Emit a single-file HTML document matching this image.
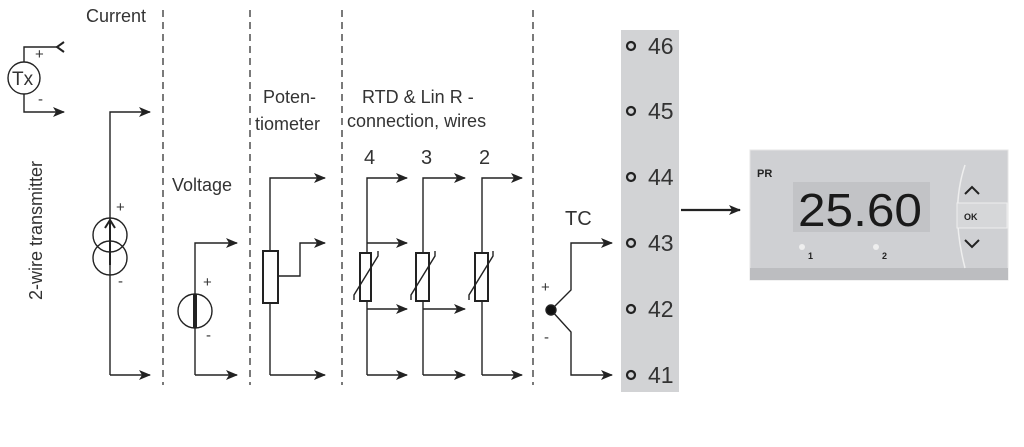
<!DOCTYPE html>
<html><head><meta charset="utf-8"><style>
html,body{margin:0;padding:0;background:#fff;width:1024px;height:447px;overflow:hidden}
svg{display:block}
text{font-family:"Liberation Sans",sans-serif;fill:#333}
</style></head><body>
<svg width="1024" height="447" viewBox="0 0 1024 447" xmlns="http://www.w3.org/2000/svg">
<defs>
<marker id="a" markerWidth="12" markerHeight="10" refX="11" refY="5" orient="auto" markerUnits="userSpaceOnUse">
<path d="M0,0 L12,5 L0,10 L3,5 Z" fill="#222"/></marker>
</defs>
<g stroke="#333" stroke-width="1.3" stroke-dasharray="7,5" fill="none">
<line x1="163" y1="10" x2="163" y2="385"/>
<line x1="250" y1="10" x2="250" y2="385"/>
<line x1="342" y1="10" x2="342" y2="385"/>
<line x1="533" y1="10" x2="533" y2="385"/>
</g>
<rect x="621" y="30" width="58" height="362" fill="#d2d3d5"/>
<g fill="none" stroke="#222" stroke-width="2.2">
<circle cx="631" cy="46" r="4"/><circle cx="631" cy="111" r="4"/><circle cx="631" cy="177" r="4"/>
<circle cx="631" cy="243" r="4"/><circle cx="631" cy="309" r="4"/><circle cx="631" cy="375" r="4"/>
</g>
<g font-size="23">
<text x="648" y="54">46</text><text x="648" y="119">45</text><text x="648" y="185">44</text>
<text x="648" y="251">43</text><text x="648" y="317">42</text><text x="648" y="383">41</text>
</g>
<g font-size="18">
<text x="86" y="22">Current</text>
<text x="172" y="191">Voltage</text>
<text x="263" y="103">Poten-</text>
<text x="255" y="130">tiometer</text>
<text x="362" y="103">RTD &amp; Lin R -</text>
<text x="347" y="127">connection, wires</text>
<text x="364" y="164" font-size="20">4</text>
<text x="421" y="164" font-size="20">3</text>
<text x="479" y="164" font-size="20">2</text>
<text x="565" y="225" font-size="20">TC</text>
<text x="42" y="300" transform="rotate(-90 42 300)">2-wire transmitter</text>
<text x="12" y="85" font-size="19">Tx</text>
</g>
<g font-size="15">
<text x="35" y="59">+</text><text x="38" y="104">-</text>
<text x="116" y="212">+</text><text x="118" y="286">-</text>
<text x="203" y="287">+</text><text x="206" y="340">-</text>
<text x="541" y="292">+</text><text x="544" y="342">-</text>
</g>
<g fill="none" stroke="#222" stroke-width="1.4">
<circle cx="24" cy="78" r="16"/>
<path d="M24,62 V47 H58"/>
<path d="M64,42 L57,47 L64,52" stroke-width="2"/>
<path d="M24,94 V112 H64" marker-end="url(#a)"/>
<path d="M110,375 V112 H150" marker-end="url(#a)"/>
<path d="M110,375 H150" marker-end="url(#a)"/>
<circle cx="110" cy="235" r="17"/><circle cx="110" cy="258" r="17"/>
<path d="M110,265 V222" stroke-width="2"/><path d="M105,228 L110,220 L115,228" stroke-width="2"/>
<path d="M195,375 V243 H237" marker-end="url(#a)"/>
<path d="M195,375 H237" marker-end="url(#a)"/>
<circle cx="195" cy="311" r="17" fill="#fff"/>
<line x1="195" y1="294" x2="195" y2="328" stroke-width="4"/>
<path d="M270,375 V178 H325" marker-end="url(#a)"/>
<path d="M270,375 H325" marker-end="url(#a)"/>
<rect x="263" y="251" width="15" height="52" fill="#fff" stroke-width="2"/>
<path d="M279,276 H300 V243 H325" marker-end="url(#a)"/>
<path d="M367,375 V178 H407" marker-end="url(#a)"/>
<path d="M367,243 H407" marker-end="url(#a)"/>
<path d="M367,309 H407" marker-end="url(#a)"/>
<path d="M367,375 H407" marker-end="url(#a)"/>
<path d="M423,375 V178 H465" marker-end="url(#a)"/>
<path d="M423,309 H465" marker-end="url(#a)"/>
<path d="M423,375 H465" marker-end="url(#a)"/>
<path d="M482,375 V178 H522" marker-end="url(#a)"/>
<path d="M482,375 H522" marker-end="url(#a)"/>
<g fill="#fff" stroke-width="2">
<rect x="360" y="253" width="11" height="48"/>
<rect x="416" y="253" width="13" height="48"/>
<rect x="475" y="253" width="13" height="48"/>
</g>
<path d="M354,300 L354,295 L378,256 L378,251"/>
<path d="M411,300 L411,295 L435,256 L435,251"/>
<path d="M469,300 L469,295 L493,256 L493,251"/>
<path d="M551,310 L571,290 V243 H612" marker-end="url(#a)"/>
<path d="M551,310 L571,332 V375 H612" marker-end="url(#a)"/>
<circle cx="551" cy="310" r="5" fill="#111"/>
<path d="M681,210 H740" stroke-width="2.2" marker-end="url(#a)"/>
</g>
<rect x="750" y="150" width="258" height="130" fill="#cfd0d3" stroke="#e5e5e5"/>
<rect x="750" y="268" width="258" height="12" fill="#bcbdc0"/>
<rect x="793" y="182" width="137" height="50" fill="#c2c3c6"/>
<text x="757" y="177" font-size="11" font-weight="bold" style="fill:#222">PR</text>
<text x="798" y="226" font-size="46" style="fill:#1a1a1a" textLength="124" lengthAdjust="spacingAndGlyphs">25.60</text>
<circle cx="802" cy="247" r="3" fill="#eee"/><text x="808" y="259" font-size="9" font-weight="bold" style="fill:#222">1</text>
<circle cx="876" cy="247" r="3" fill="#eee"/><text x="882" y="259" font-size="9" font-weight="bold" style="fill:#222">2</text>
<path d="M965,165 Q950,210 965,268" fill="none" stroke="#eee" stroke-width="1.5"/>
<rect x="957" y="203" width="50" height="25" fill="#d6d7d9" stroke="#eee"/>
<path d="M965,194 L972,187 L979,194" fill="none" stroke="#222" stroke-width="2"/>
<text x="964" y="220" font-size="9" font-weight="bold" style="fill:#222">OK</text>
<path d="M965,240 L972,247 L979,240" fill="none" stroke="#222" stroke-width="2"/>
</svg>
</body></html>
